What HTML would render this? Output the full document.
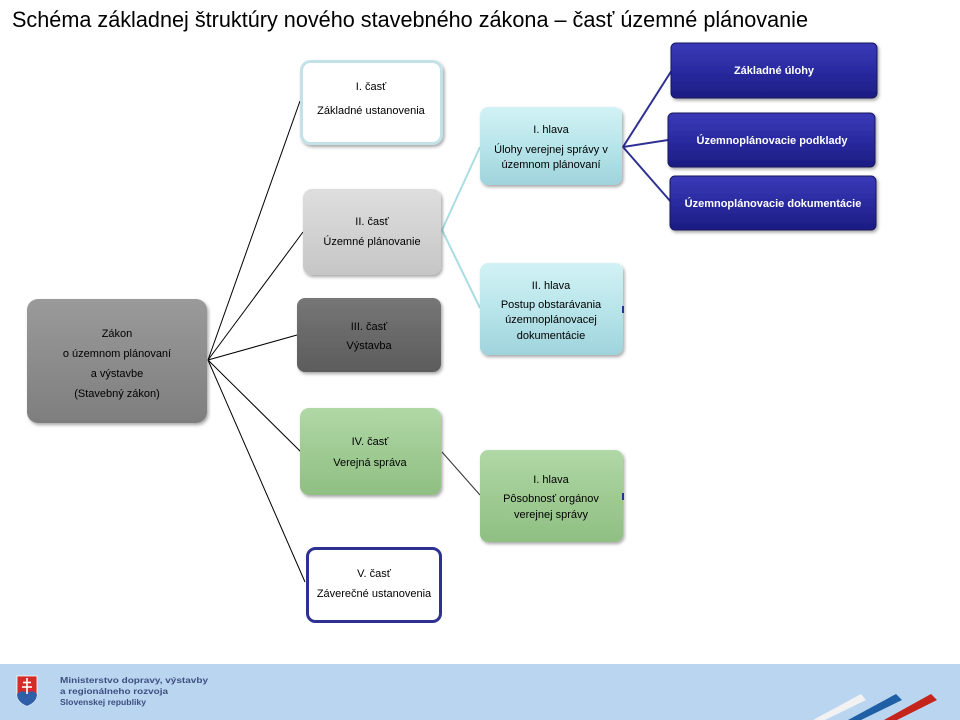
<!DOCTYPE html>
<html><head><meta charset="utf-8"><style>
html,body{margin:0;padding:0;background:#fff;}
svg{display:block;}
text{font-family:"Liberation Sans",Arial,sans-serif;}
</style></head><body>
<svg width="960" height="720" viewBox="0 0 960 720" xmlns="http://www.w3.org/2000/svg">
<defs>
<linearGradient id="gMain" x1="0" y1="0" x2="0" y2="1"><stop offset="0" stop-color="#9a9a9a"/><stop offset="0.5" stop-color="#8c8c8c"/><stop offset="1" stop-color="#7e7e7e"/></linearGradient>
<linearGradient id="gLight" x1="0" y1="0" x2="0" y2="1"><stop offset="0" stop-color="#dedede"/><stop offset="0.5" stop-color="#d2d2d2"/><stop offset="1" stop-color="#c6c6c6"/></linearGradient>
<linearGradient id="gDark" x1="0" y1="0" x2="0" y2="1"><stop offset="0" stop-color="#767676"/><stop offset="0.5" stop-color="#696969"/><stop offset="1" stop-color="#5c5c5c"/></linearGradient>
<linearGradient id="gGreen" x1="0" y1="0" x2="0" y2="1"><stop offset="0" stop-color="#b0d8a6"/><stop offset="0.5" stop-color="#9fcb93"/><stop offset="1" stop-color="#8fbf83"/></linearGradient>
<linearGradient id="gCyan" x1="0" y1="0" x2="0" y2="1"><stop offset="0" stop-color="#d2f2f5"/><stop offset="0.5" stop-color="#b8e5ea"/><stop offset="1" stop-color="#9fd3dc"/></linearGradient>
<linearGradient id="gBlue" x1="0" y1="0" x2="0" y2="1"><stop offset="0" stop-color="#3a3ab8"/><stop offset="0.5" stop-color="#2a2aa0"/><stop offset="1" stop-color="#1c1c82"/></linearGradient>
<filter id="sh" x="-10%" y="-10%" width="130%" height="130%"><feDropShadow dx="1.5" dy="2" stdDeviation="1.5" flood-color="#000" flood-opacity="0.35"/></filter>
</defs>

<!-- Title -->
<text x="12" y="27" font-size="22" fill="#000" textLength="796" lengthAdjust="spacingAndGlyphs">Schéma základnej štruktúry nového stavebného zákona – časť územné plánovanie</text>

<!-- Connectors -->
<g stroke="#000" stroke-width="1" fill="none">
<line x1="208" y1="360" x2="300" y2="101"/>
<line x1="208" y1="360" x2="303" y2="232"/>
<line x1="208" y1="360" x2="297" y2="335"/>
<line x1="208" y1="360" x2="302" y2="453"/>
<line x1="208" y1="360" x2="305" y2="582"/>
<line x1="442" y1="452" x2="480" y2="495" stroke="#333"/>
</g>
<g stroke="#a9dde3" stroke-width="2" fill="none">
<line x1="442" y1="230" x2="480" y2="147"/>
<line x1="442" y1="230" x2="480" y2="308"/>
</g>
<g stroke="#2e3192" stroke-width="2" fill="none">
<line x1="623" y1="147" x2="672" y2="70"/>
<line x1="623" y1="147" x2="668" y2="140"/>
<line x1="623" y1="147" x2="671" y2="202"/>
</g>

<!-- Main box -->
<rect x="27" y="299" width="180" height="124" rx="11" fill="url(#gMain)" filter="url(#sh)"/>
<g font-size="11" fill="#000" text-anchor="middle">
<text x="117" y="337">Zákon</text>
<text x="117" y="357">o územnom plánovaní</text>
<text x="117" y="377">a  výstavbe</text>
<text x="117" y="397">(Stavebný zákon)</text>
</g>

<!-- I. časť -->
<rect x="301.5" y="61.5" width="140" height="82" rx="9" fill="#fff" stroke="#c2e2e8" stroke-width="3" filter="url(#sh)"/>
<g font-size="11" fill="#000" text-anchor="middle">
<text x="371" y="90">I. časť</text>
<text x="371" y="114">Základné  ustanovenia</text>
</g>

<!-- II. časť -->
<rect x="303" y="189" width="138" height="86" rx="9" fill="url(#gLight)" filter="url(#sh)"/>
<g font-size="11" fill="#000" text-anchor="middle">
<text x="372" y="225">II. časť</text>
<text x="372" y="245">Územné plánovanie</text>
</g>

<!-- III. časť -->
<rect x="297" y="298" width="144" height="74" rx="8" fill="url(#gDark)" filter="url(#sh)"/>
<g font-size="11" fill="#000" text-anchor="middle">
<text x="369" y="330">III. časť</text>
<text x="369" y="349">Výstavba</text>
</g>

<!-- IV. časť -->
<rect x="300" y="408" width="141" height="87" rx="9" fill="url(#gGreen)" filter="url(#sh)"/>
<g font-size="11" fill="#000" text-anchor="middle">
<text x="370" y="445">IV. časť</text>
<text x="370" y="466">Verejná správa</text>
</g>

<!-- V. časť -->
<rect x="307.5" y="548.5" width="133" height="73" rx="8" fill="#fff" stroke="#2e3192" stroke-width="3"/>
<g font-size="11" fill="#000" text-anchor="middle">
<text x="374" y="577">V. časť</text>
<text x="374" y="597">Záverečné ustanovenia</text>
</g>

<!-- I. hlava (top) -->
<rect x="480" y="107" width="142" height="78" rx="8" fill="url(#gCyan)" filter="url(#sh)"/>
<g font-size="11" fill="#000" text-anchor="middle">
<text x="551" y="133">I. hlava</text>
<text x="551" y="153">Úlohy  verejnej správy v</text>
<text x="551" y="168">územnom plánovaní</text>
</g>

<!-- II. hlava -->
<rect x="480" y="263" width="143" height="92" rx="8" fill="url(#gCyan)" filter="url(#sh)"/>
<g font-size="11" fill="#000" text-anchor="middle">
<text x="551" y="289">II. hlava</text>
<text x="551" y="308">Postup obstarávania</text>
<text x="551" y="323">územnoplánovacej</text>
<text x="551" y="339">dokumentácie</text>
</g>
<line x1="623" y1="306" x2="623" y2="313" stroke="#2e3192" stroke-width="2"/>

<!-- I. hlava (green) -->
<rect x="480" y="450" width="143" height="92" rx="8" fill="url(#gGreen)" filter="url(#sh)"/>
<g font-size="11" fill="#000" text-anchor="middle">
<text x="551" y="483">I. hlava</text>
<text x="551" y="502">Pôsobnosť orgánov</text>
<text x="551" y="518">verejnej správy</text>
</g>
<line x1="623" y1="493" x2="623" y2="500" stroke="#2e3192" stroke-width="2"/>

<!-- Blue boxes -->
<rect x="671" y="43" width="206" height="55" rx="5" fill="url(#gBlue)" stroke="#15155f" stroke-width="1" filter="url(#sh)"/>
<rect x="668" y="113" width="207" height="54" rx="5" fill="url(#gBlue)" stroke="#15155f" stroke-width="1" filter="url(#sh)"/>
<rect x="670" y="176" width="206" height="54" rx="5" fill="url(#gBlue)" stroke="#15155f" stroke-width="1" filter="url(#sh)"/>
<g font-size="11" font-weight="bold" fill="#fff" text-anchor="middle">
<text x="774" y="74">Základné  úlohy</text>
<text x="772" y="144">Územnoplánovacie  podklady</text>
<text x="773" y="207">Územnoplánovacie  dokumentácie</text>
</g>

<!-- Footer -->
<rect x="0" y="664" width="960" height="56" fill="#bad5ef"/>
<!-- emblem -->
<path d="M17 676 H37 V694 Q37 702 27 706 Q17 702 17 694 Z" fill="#d52b2b" stroke="#fff" stroke-width="0.8"/>
<path d="M17 694 Q22 689 27 693 Q32 689 37 694 Q37 702 27 706 Q17 702 17 694 Z" fill="#2f5fa8"/>
<g stroke="#fff" stroke-width="1.6">
<line x1="27" y1="678" x2="27" y2="694"/>
<line x1="23" y1="682.5" x2="31" y2="682.5"/>
<line x1="22" y1="687" x2="32" y2="687"/>
</g>
<g font-size="8" font-weight="bold" fill="#3d4f80">
<text x="60" y="683" textLength="148" lengthAdjust="spacingAndGlyphs">Ministerstvo dopravy, výstavby</text>
<text x="60" y="694" textLength="108" lengthAdjust="spacingAndGlyphs">a regionálneho rozvoja</text>
<text x="60" y="705" textLength="86" lengthAdjust="spacingAndGlyphs">Slovenskej republiky</text>
</g>
<!-- stripes -->
<polygon points="813,720 825,720 866,700 861,694" fill="#f2f2f2"/>
<polygon points="848,720 861,720 902,700 896,694" fill="#1f5fa6"/>
<polygon points="884,720 897,720 937,700 931,694" fill="#c4241c"/>
</svg>
</body></html>
